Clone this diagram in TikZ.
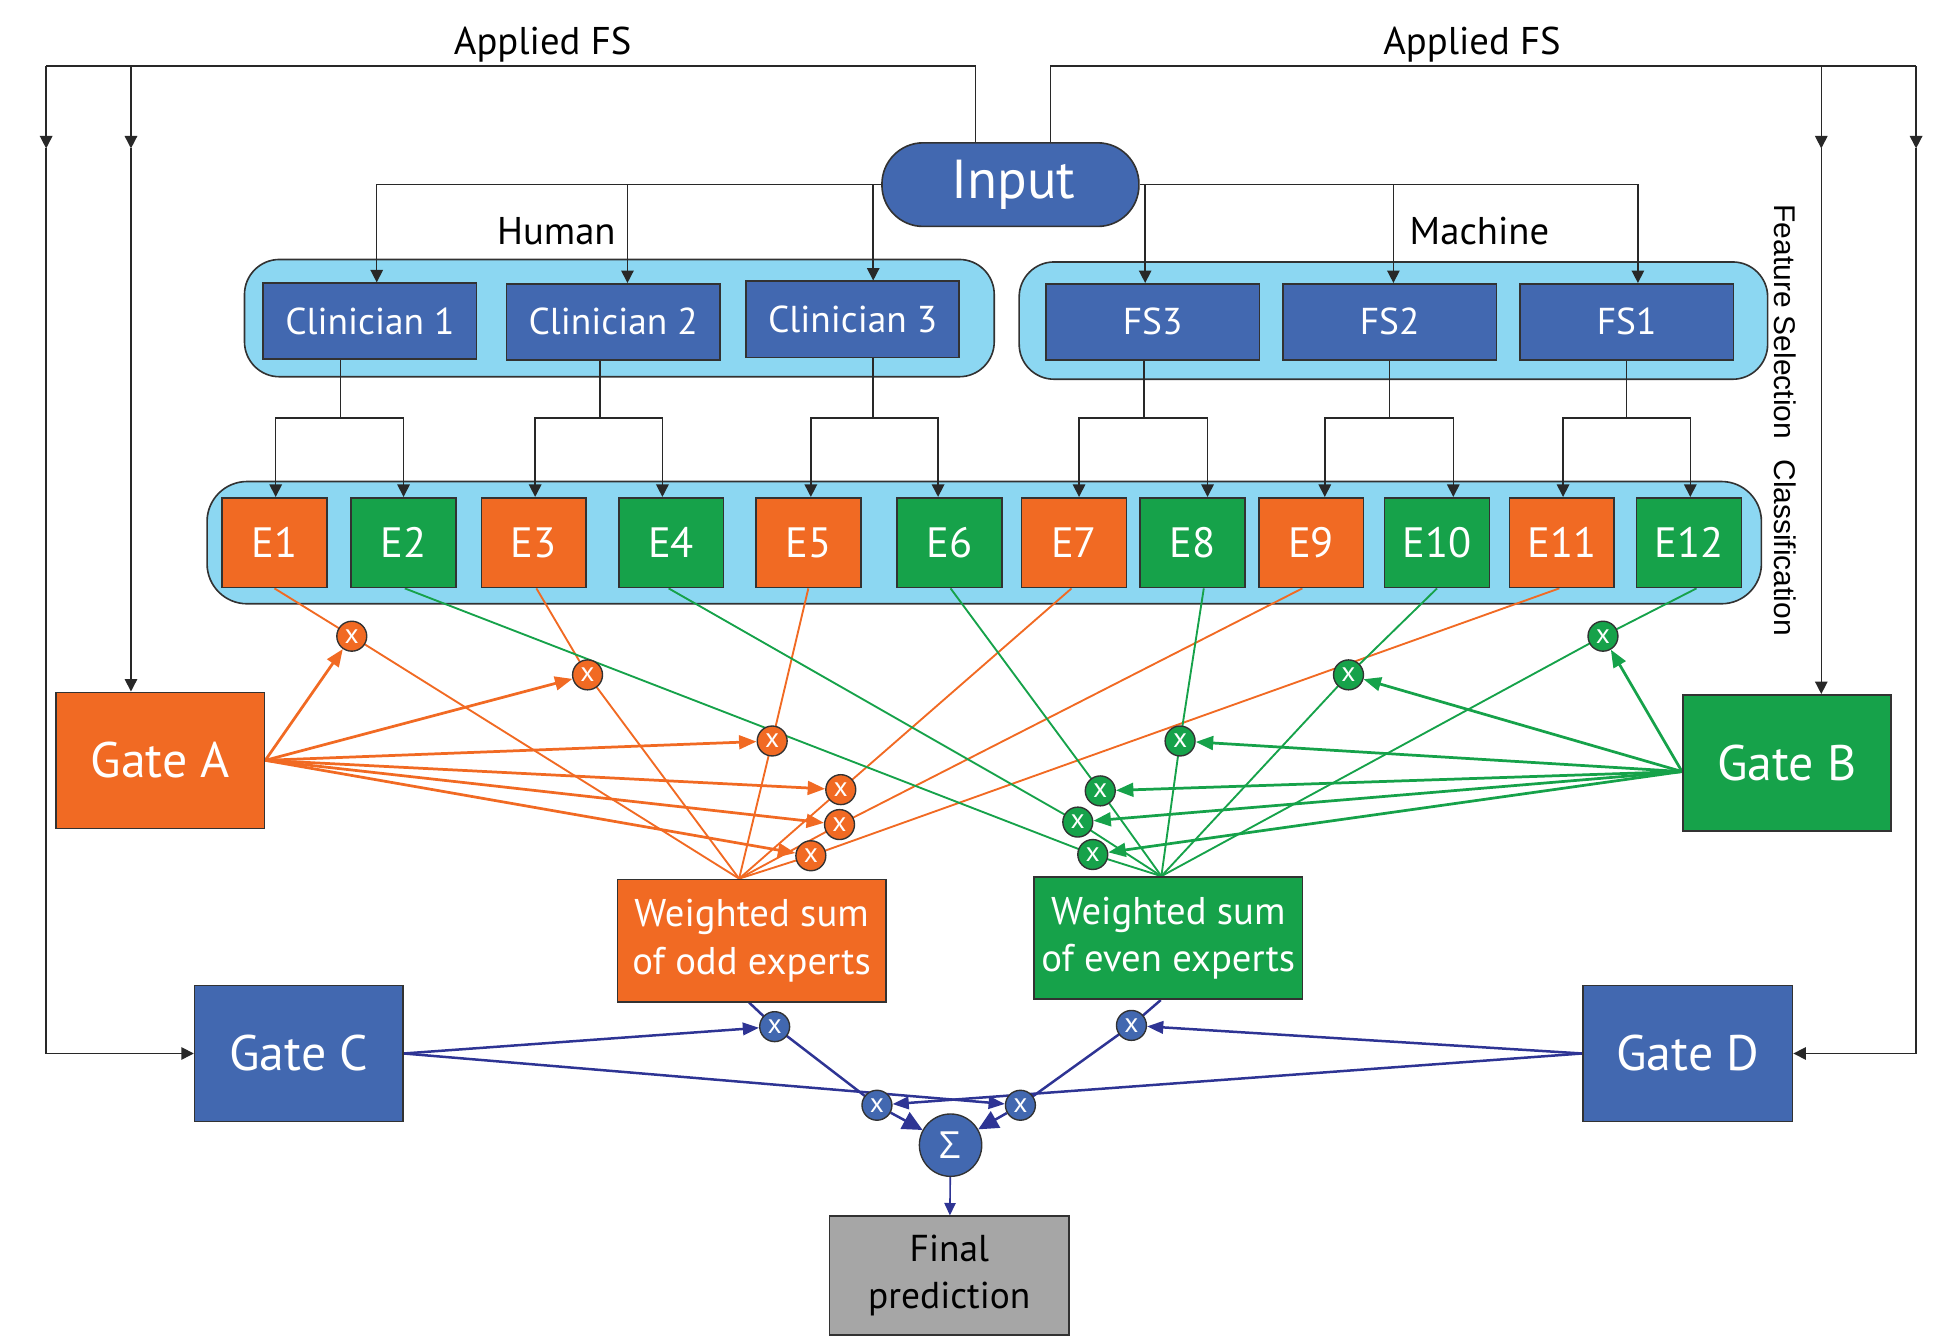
\documentclass[tikz,border=0pt]{standalone}
\usepackage{fontspec}
\setmainfont{PT Sans}
\newfontfamily\arialf{Liberation Sans}
\newfontfamily\sigf{Open Sans}
\usetikzlibrary{arrows.meta,calc}
\pgfdeclarelayer{back}
\pgfdeclarelayer{mid}
\pgfsetlayers{back,mid,main}
\definecolor{cblue}{RGB}{66,104,176}
\definecolor{corange}{RGB}{241,106,35}
\definecolor{cgreen}{RGB}{22,162,74}
\definecolor{clight}{RGB}{140,215,242}
\definecolor{cgray}{RGB}{166,166,166}
\definecolor{cnavy}{RGB}{46,52,148}
\definecolor{cborder}{RGB}{50,50,50}
\definecolor{cline}{RGB}{40,40,40}
\tikzset{
  box/.style={draw=cborder, line width=1.3pt, inner sep=0pt, text=white},
  bluebox/.style={box, fill=cblue},
  cbox/.style={bluebox, minimum width=171pt, minimum height=61pt, font=\fontsize{30}{30}\selectfont},
  ebox/.style={box, minimum width=84pt, minimum height=72pt, font=\fontsize{34}{34}\selectfont},
  oexp/.style={ebox, fill=corange},
  gexp/.style={ebox, fill=cgreen},
  gate/.style={box, minimum width=167pt, minimum height=109pt, font=\fontsize{40}{40}\selectfont},
  wsbox/.style={box, minimum width=215pt, minimum height=98pt, align=center, font=\fontsize{31}{38}\selectfont},
  cont/.style={draw=cborder, line width=1.3pt, fill=clight, inner sep=0pt},
  mult/.style={circle, draw=cborder, line width=1.1pt, minimum size=24pt, inner sep=0pt, text=white, font=\fontsize{22}{22}\selectfont},
  omult/.style={mult, fill=corange},
  gmult/.style={mult, fill=cgreen},
  bmult/.style={mult, fill=cblue},
  lbl/.style={font=\fontsize{31}{31}\selectfont, anchor=base, inner sep=0pt},
  rlbl/.style={font=\arialf\fontsize{24}{24}\selectfont, rotate=-90, inner sep=0pt},
  conn/.style={draw=cline, line width=1.2pt},
  arr/.style={conn, -{Triangle[length=10pt,width=10pt]}},
  oline/.style={draw=corange, line width=1.5pt},
  gline/.style={draw=cgreen, line width=1.5pt},
  oarr/.style={draw=corange, line width=2.2pt, -{Triangle[length=14pt,width=11pt]}},
  garr/.style={draw=cgreen, line width=2.2pt, -{Triangle[length=14pt,width=11pt]}},
  nline/.style={draw=cnavy, line width=2pt},
  narr/.style={nline, -{Triangle[length=13pt,width=10pt]}},
  sarr/.style={nline, -{Triangle[length=16pt,width=15pt]}},
}
\begin{document}
\begin{tikzpicture}[x=1pt,y=-1pt]
\useasboundingbox (0,0) rectangle (1568,1073);

% containers
\begin{pgfonlayer}{back}
\node[cont, minimum width=601pt, minimum height=94pt, rounded corners=28pt] (hum) at (496.5,255) {};
\node[cont, minimum width=600pt, minimum height=94pt, rounded corners=28pt] (mac) at (1117,257) {};
\node[cont, minimum width=1246pt, minimum height=98pt, rounded corners=32pt] (exc) at (789,435) {};
\end{pgfonlayer}

% input
\node[bluebox, minimum width=206pt, minimum height=67pt, rounded corners=33pt, font=\fontsize{44}{44}\selectfont] (input) at (810,148) {\hspace*{5pt}Input};

% labels
\node[lbl] (afs1) at (435,44) {Applied FS};
\node[lbl] (afs2) at (1180,44) {Applied FS};
\node[lbl] (hlab) at (446,196) {Human};
\node[lbl] (mlab) at (1186,196) {Machine};
\node[rlbl] (fslab) at (1431,258) {Feature Selection};
\node[rlbl] (cllab) at (1431,439) {Classification};

% feature selection boxes
\node[cbox] (c1) at (296.5,257.5) {Clinician 1};
\node[cbox] (c2) at (491.5,258) {Clinician 2};
\node[cbox] (c3) at (683.5,256) {Clinician 3};
\node[cbox] (fs3) at (924,258) {FS3};
\node[cbox] (fs2) at (1114,258) {FS2};
\node[cbox] (fs1) at (1304,258) {FS1};

% experts
\foreach \i/\x/\s in {1/220/oexp,2/323.5/gexp,3/428/oexp,4/538/gexp,5/648/oexp,6/761/gexp,7/861/oexp,8/956/gexp,9/1051/oexp,10/1152/gexp,11/1252/oexp,12/1354/gexp}
  \node[\s] (e\i) at (\x,435) {E\i};

% gates
\node[gate, fill=corange] (gA) at (128.5,609.5) {Gate A};
\node[gate, fill=cgreen] (gB) at (1432.5,611.5) {Gate B};
\node[gate, fill=cblue] (gC) at (239.5,844.5) {Gate C};
\node[gate, fill=cblue, minimum width=168pt] (gD) at (1353,844.5) {Gate D};

% weighted sums
\node[wsbox, fill=corange] (wso) at (602.5,754) {Weighted sum\\of odd experts};
\node[wsbox, fill=cgreen] (wse) at (936.5,752) {Weighted sum\\of even experts};

% sum and final
\node[bmult, minimum size=50pt, font=\sigf\fontsize{30}{30}\selectfont] (sig) at (762,918) {Σ};
\node[box, fill=cgray, text=black, minimum width=192pt, minimum height=95pt, align=center, font=\fontsize{30}{37}\selectfont] (fin) at (761,1022.5) {Final\\prediction};

% multipliers
\foreach \n/\x/\y in {1/282/510,2/471/541,3/619/594,4/674/633,5/673/661,6/650/686}
  \node[omult] (o\n) at (\x,\y) {x};
\foreach \n/\x/\y in {1/1285/510,2/1081/541,3/946/594,4/882/634,5/864/659,6/876/685}
  \node[gmult] (g\n) at (\x,\y) {x};
\node[bmult] (b1) at (621,823) {x};
\node[bmult] (b2) at (907,822) {x};
\node[bmult] (b3) at (703,886) {x};
\node[bmult] (b4) at (818,886) {x};

% ---- black connectors ----
\coordinate (c1t) at ([xshift=5.5pt]c1.north);
\coordinate (c2t) at ([xshift=11.5pt]c2.north);
\coordinate (c3t) at ([xshift=16.5pt]c3.north);
\draw[arr] (input.west) -| (c1t);
\draw[arr] (input.west -| c2t) -- (c2t);
\draw[arr] (input.west -| c3t) -- (c3t);
\coordinate (f3t) at ([xshift=-6pt]fs3.north);
\coordinate (f2t) at ([xshift=3pt]fs2.north);
\coordinate (f1t) at ([xshift=9pt]fs1.north);
\draw[arr] (input.east) -| (f1t);
\draw[arr] (input.east -| f3t) -- (f3t);
\draw[arr] (input.east -| f2t) -- (f2t);

\coordinate (jrow) at (0,335);
\coordinate (c1b) at ([xshift=-23.5pt]c1.south);
\coordinate (c2b) at ([xshift=-10.5pt]c2.south);
\coordinate (c3b) at ([xshift=16.5pt]c3.south);
\coordinate (f3b) at ([xshift=-7pt]fs3.south);
\coordinate (f2b) at (fs2.south);
\coordinate (f1b) at (fs1.south);
\foreach \s/\a/\b/\da/\db in {c1b/1/2/1/0,c2b/3/4/1/-7,c3b/5/6/2/-9,f3b/7/8/4/12,f2b/9/10/11/13,f1b/11/12/1/1}{
  \draw[conn] (\s) -- (\s |- jrow);
  \draw[arr] (\s |- jrow) -| ([xshift=\da pt]e\a.north);
  \draw[arr] (\s |- jrow) -| ([xshift=\db pt]e\b.north);
}

% outer applied FS frame
\coordinate (inL) at ([xshift=-28pt]input.north);
\coordinate (inR) at ([xshift=32pt]input.north);
\coordinate (tL1) at (37,53);
\coordinate (tL2) at (105,53);
\coordinate (tR1) at (1460,53);
\coordinate (tR2) at (1536,53);
\coordinate (arow) at (0,119);
\draw[conn] (inL) |- (tL1);
\draw[arr] (tL1) -- (tL1 |- arow);
\draw[arr] (tL1 |- arow) |- (gC.west);
\draw[arr] (tL2) -- (tL2 |- arow);
\draw[arr] (tL2 |- arow) -- (tL2 |- gA.north);
\draw[conn] (inR) |- (tR2);
\draw[arr] (tR1) -- (tR1 |- arow);
\draw[arr] (tR1 |- arow) -- (tR1 |- gB.north);
\draw[arr] (tR2) -- (tR2 |- arow);
\draw[arr] (tR2 |- arow) |- (gD.east);

% ---- coloured connectors ----
\begin{pgfonlayer}{mid}
\coordinate (fo) at ([xshift=-10pt]wso.north);
\coordinate (fg) at ([xshift=-5.5pt]wse.north);
\foreach \e/\m/\dx in {1/1/0,3/2/2,5/3/0,7/4/-2,9/5/-7,11/6/-2}
  \draw[oline] ([xshift=\dx pt]e\e.south) -- (o\m.center) -- (fo);
\foreach \e/\m/\dx in {2/6/1,4/5/-2,6/4/1,8/3/9,10/2/0,12/1/6}
  \draw[gline] ([xshift=\dx pt]e\e.south) -- (g\m.center) -- (fg);
\foreach \m in {1,...,6}
  \draw[oarr] (gA.east) -- (o\m);
\coordinate (gBl) at ([yshift=-7pt]gB.west);
\foreach \m in {1,...,6}
  \draw[garr] (gBl) -- (g\m);

\draw[nline] ([xshift=-2pt]wso.south) -- (b1.center) -- (b3.center);
\draw[nline] ([xshift=-6pt]wse.south) -- (b2.center) -- (b4.center);
\draw[narr] (gC.east) -- (b1);
\draw[narr] (gC.east) -- (b4);
\draw[narr] (gD.west) -- (b2);
\draw[narr] (gD.west) -- (b3);
\draw[sarr] (b3) -- (sig);
\draw[sarr] (b4) -- (sig);
\draw[draw=cnavy, line width=1.3pt, -{Triangle[length=10pt,width=9pt]}] (sig) -- (fin);
\end{pgfonlayer}
\end{tikzpicture}
\end{document}
